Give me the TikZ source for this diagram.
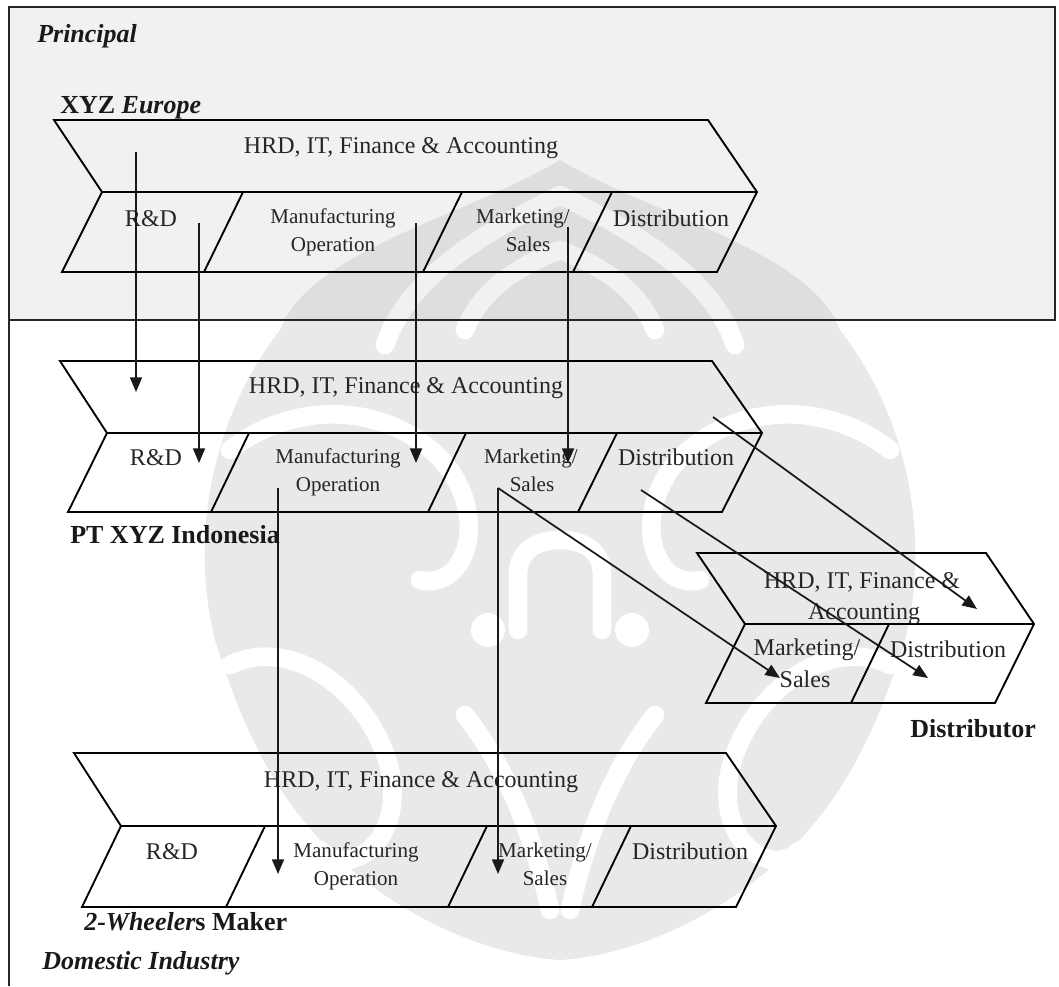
\documentclass[tikz,border=0pt]{standalone}
\usepackage{fontspec}
\setmainfont{Liberation Serif}
\usetikzlibrary{arrows.meta}
\begin{document}
\begin{tikzpicture}[x=0.75pt,y=-0.75pt,
  chev/.style={draw=black, line width=1.4pt, line join=miter},
  frame/.style={draw=black!85, line width=1.6pt},
  big/.style={font=\fontsize{18}{20}\selectfont, anchor=base, inner sep=0pt, text=black!85},
  small/.style={font=\fontsize{15.8}{18}\selectfont, anchor=base, inner sep=0pt, text=black!85},
  title/.style={font=\fontsize{19.5}{22}\selectfont\bfseries, anchor=base west, inner sep=0pt, text=black!90},
  flow/.style={-{Triangle[length=11pt,width=9pt]}, line width=1.3pt, draw=black!90},
  band/.style={line width=14, line cap=round},
]
\useasboundingbox (0,0) rectangle (1059,986);

% ---------- background of the principal panel ----------
\fill[gray!11] (9,7) rectangle (1055,320);

% ---------- watermark ornament ----------
\newcommand\ornament[2]{%
  \begin{scope}[shift={(560,0)}]
    \fill[#1] (0,160)
      .. controls (-90,215) and (-250,250) .. (-280,330)
      .. controls (-350,420) and (-370,540) .. (-345,640)
      .. controls (-320,720) and (-290,790) .. (-230,850)
      .. controls (-170,910) and (-80,955) .. (0,960)
      .. controls (80,955) and (170,910) .. (230,850)
      .. controls (290,790) and (320,720) .. (345,640)
      .. controls (370,540) and (350,420) .. (280,330)
      .. controls (250,250) and (90,215) .. (0,160) -- cycle;
  \end{scope}
  \foreach \s in {1,-1}{%
    \begin{scope}[shift={(560,0)}, xscale=\s]
      \draw[band,#2] (-175,345) .. controls (-150,270) and (-60,225) .. (0,195);
      \draw[band,#2] (-95,330) .. controls (-80,290) and (-40,265) .. (0,250);
      \draw[band,#2] (-330,450) .. controls (-260,395) and (-160,405) .. (-110,470)
                     .. controls (-70,530) and (-100,590) .. (-140,580);
      \draw[band,#2] (-330,665) .. controls (-270,635) and (-190,690) .. (-170,770)
                     .. controls (-155,840) and (-210,880) .. (-240,850);
      \draw[band,#2] (-42,630) -- (-42,575) .. controls (-42,548) and (-20,540) .. (0,540);
      \draw[band,#2] (-95,715) .. controls (-60,760) and (-30,820) .. (-10,910);
      \fill[#2] (-72,630) circle (17);
    \end{scope}}%
}
\begin{scope}
  \clip (9,7) rectangle (1055,320);
  \ornament{gray!26}{gray!11}
\end{scope}
\begin{scope}
  \clip (9,320) rectangle (1059,986);
  \ornament{gray!17}{white}
\end{scope}

% ---------- frame ----------
\draw[frame] (9,7) rectangle (1055,320);
\draw[frame] (9,320) -- (9,986);

% ---------- panel titles ----------
\node[title] (principal) at (37,42) {\itshape Principal};
\node[title] (europe) at (60,113) {XYZ \itshape Europe};
\node[title] (indonesia) at (70,543) {PT XYZ Indonesia};
\node[title] (distributor) at (910,737) {Distributor};
\node[title] (maker) at (84,930) {\itshape 2-Wheeler\upshape s Maker};
\node[title] (domestic) at (42,969) {\itshape Domestic Industry};

% ---------- value chain: XYZ Europe ----------
\draw[chev] (54,120) -- (708,120) -- (757,192) -- (717,272) -- (62,272) -- (102,192) -- cycle;
\draw[chev] (102,192) -- (757,192);
\draw[chev] (243,192) -- (204,272);
\draw[chev] (462,192) -- (423,272);
\draw[chev] (612,192) -- (573,272);
\node[big] (eHRD) at (401,153) {HRD, IT, Finance \& Accounting};
\node[big] (eRD) at (151,226) {R\&D};
\node[small] (eMfg) at (333,223) {Manufacturing};
\node[small] (eOp) at (333,251) {Operation};
\node[small] (eMkt) at (523,223) {Marketing/};
\node[small] (eSal) at (528,251) {Sales};
\node[big] (eDis) at (671,226) {Distribution};

% ---------- value chain: PT XYZ Indonesia ----------
\draw[chev] (60,361) -- (712,361) -- (762,433) -- (722,512) -- (68,512) -- (107,433) -- cycle;
\draw[chev] (107,433) -- (762,433);
\draw[chev] (249,433) -- (211,512);
\draw[chev] (466,433) -- (428,512);
\draw[chev] (617,433) -- (578,512);
\node[big] (iHRD) at (406,393) {HRD, IT, Finance \& Accounting};
\node[big] (iRD) at (156,465) {R\&D};
\node[small] (iMfg) at (338,463) {Manufacturing};
\node[small] (iOp) at (338,491) {Operation};
\node[small] (iMkt) at (531,463) {Marketing/};
\node[small] (iSal) at (532,491) {Sales};
\node[big] (iDis) at (676,465) {Distribution};

% ---------- value chain: distributor ----------
\draw[chev] (697,553) -- (986,553) -- (1034,624) -- (995,703) -- (706,703) -- (745,624) -- cycle;
\draw[chev] (745,624) -- (1034,624);
\draw[chev] (889,624) -- (851,703);
\node[big] (dHRD) at (862,588) {HRD, IT, Finance \&};
\begin{scope}
  \clip (700,600) rectangle (1030,623);
  \node[big] (dAcc) at (864,619) {Accounting};
\end{scope}
\node[big] (dMkt) at (807,655) {Marketing/};
\node[big] (dSal) at (805,687) {Sales};
\node[big] (dDis) at (948,657) {Distribution};

% ---------- value chain: 2-wheelers maker ----------
\draw[chev] (74,753) -- (726,753) -- (776,826) -- (736,907) -- (82,907) -- (121,826) -- cycle;
\draw[chev] (121,826) -- (776,826);
\draw[chev] (265,826) -- (226,907);
\draw[chev] (487,826) -- (448,907);
\draw[chev] (631,826) -- (592,907);
\node[big] (wHRD) at (421,787) {HRD, IT, Finance \& Accounting};
\node[big] (wRD) at (172,859) {R\&D};
\node[small] (wMfg) at (356,857) {Manufacturing};
\node[small] (wOp) at (356,885) {Operation};
\node[small] (wMkt) at (545,857) {Marketing/};
\node[small] (wSal) at (545,885) {Sales};
\node[big] (wDis) at (690,859) {Distribution};

% ---------- flows ----------
\coordinate (f1s) at (136,152); \coordinate (f1e) at (136,392);
\coordinate (f2s) at (199,223); \coordinate (f2e) at (199,463);
\coordinate (f3s) at (416,223); \coordinate (f3e) at (416,463);
\coordinate (f4s) at (568,227); \coordinate (f4e) at (568,463);
\coordinate (f5s) at (713,417); \coordinate (f5e) at (977,609);
\coordinate (f6s) at (641,490); \coordinate (f6e) at (928,678);
\coordinate (f7s) at (498,488); \coordinate (f7e) at (780,678);
\coordinate (f8e) at (498,874);
\coordinate (f9s) at (278,488); \coordinate (f9e) at (278,874);
\draw[flow] (f1s) -- (f1e);
\draw[flow] (f2s) -- (f2e);
\draw[flow] (f3s) -- (f3e);
\draw[flow] (f4s) -- (f4e);
\draw[flow] (f5s) -- (f5e);
\draw[flow] (f6s) -- (f6e);
\draw[flow] (f7s) -- (f7e);
\draw[flow] (f7s) -- (f8e);
\draw[flow] (f9s) -- (f9e);
\end{tikzpicture}
\end{document}
